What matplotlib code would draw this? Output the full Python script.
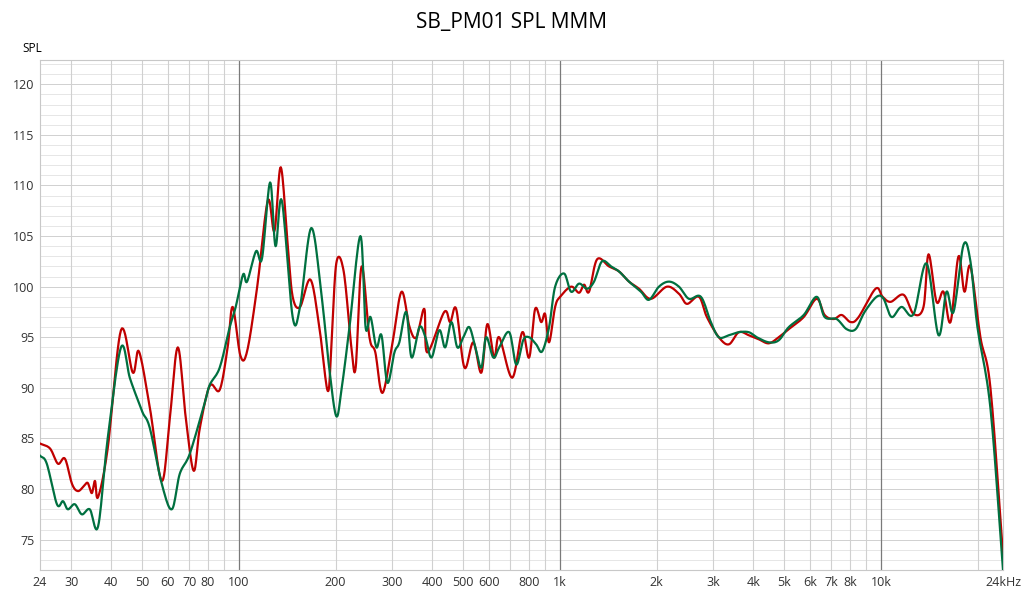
import matplotlib
matplotlib.use("Agg")
import matplotlib.pyplot as plt
import numpy as np

title = "SB_PM01 SPL MMM"
red_freq = [24,25.8,27.3,28.7,30.2,31.5,32.9,33.8,34.8,35.6,36.4,39.0,42.9,46.7,48.8,52.8,57.5,60.9,64.5,68.3,72.3,75.5,81.1,87.1,92.2,95.6,101,106,114,123,129,135,142,147,155,167,178,189,194,201,212,224,231,241,255,266,280,301,321,340,357,378,386,436,455,475,504,537,569,594,624,647,710,763,802,837,874,899,925,966,1001,1083,1147,1189,1232,1305,1422,1528,1641,1763,1920,2154,2348,2486,2709,2869,3126,3358,3608,3876,4163,4472,4804,5161,5746,6306,6678,7124,7546,8047,8522,9623,10120,10720,11760,12640,13570,14070,14900,15660,16470,17440,18200,19000,20410,21930,24000]
red_spl = [84.5,84,82.5,83,80.5,79.8,80.3,80.6,79.6,80.8,79.2,84,95.7,91.5,93.6,88,80.8,87,94,87,81.8,86,90.2,89.8,94,98,93.2,93.6,100,108.5,105.5,111.8,104,99,98,100.7,96,89.7,94,102.3,101.5,94,92,102,95,93.5,89.5,94.5,99.5,96,95,97.8,93.5,97.5,96.5,97.8,92,94.5,91.5,96.3,93,95,91,95.5,93,97.8,96.5,97.3,94.5,98,99,100,99.4,100.2,99.5,102.7,102,101.5,100.5,99.8,98.8,100,99.3,98.3,99,97,95,94.3,95.5,95.2,94.8,94.4,95,95.8,97,98.8,97.2,96.8,97.2,96.5,97,99.8,99,98.5,99.2,97.3,98,103.2,98.5,99.5,96.5,103,99.5,102,95,90,73.5]
green_freq = [24,25.2,27.1,28.3,29.3,30.8,32.4,34.3,36.4,39.0,42.9,45.7,48.4,50.2,52.8,57.5,61.8,65.4,70.3,78.2,81.1,87.1,93.6,97.7,103,106,113,118,125,130,136,147,155,168,181,191,201,209,221,239,248,257,268,278,290,305,316,332,345,365,381,398,421,439,459,479,500,522,545,569,589,620,647,695,731,768,802,843,880,925,966,1030,1083,1147,1215,1277,1352,1443,1528,1641,1788,1894,2034,2185,2348,2522,2748,2952,3126,3358,3608,3876,4104,4472,4804,5161,5746,6306,6678,7278,7817,8340,8894,9693,10190,10790,11590,12640,13870,15110,16000,16830,18070,19000,19980,21930,24000]
green_spl = [83.3,82.5,78.5,78.8,78,78.5,77.5,78,76.3,85,94,91,88.8,87.5,86,80.5,78,81.5,83.5,88.5,90.3,92,96,98,101.2,100.5,103.5,102.8,110.3,104,108.5,97,98,105.8,99,92,87.2,90,96,105,96,97,94,95.2,90.5,93.5,94.5,97.5,93,96,95,93,95.7,94,96.5,94,95,96,94,92,95,93,94,95.5,92.3,94.7,95,94.3,93.6,96,100,101.3,99.5,100.3,99.8,100.5,102.5,102,101.5,100.5,99.5,98.7,100,100.5,100,98.8,99,96.5,95,95.2,95.5,95.5,95,94.5,94.7,96,97.2,99,97,96.8,95.8,95.8,97.5,99,98.8,97,98,97.3,102.3,95.2,99.5,97.5,104.1,102.5,96,88,72]
xticks = [24,30,40,50,60,70,80,100,200,300,400,500,600,800,1000,2000,3000,4000,5000,6000,7000,8000,10000,24000]
xticklabels = ["24","30","40","50","60","70","80","100","200","300","400","500","600","800","1k","2k","3k","4k","5k","6k","7k","8k","10k","24kHz"]
yticks = [75,80,85,90,95,100,105,110,115,120]


def smooth_path(freq, spl, n=12):
    # Catmull-Rom spline through the read points, in log-frequency space (drawing only)
    x = np.log10(np.asarray(freq, float))
    y = np.asarray(spl, float)
    xp = np.concatenate([[2 * x[0] - x[1]], x, [2 * x[-1] - x[-2]]])
    yp = np.concatenate([[2 * y[0] - y[1]], y, [2 * y[-1] - y[-2]]])
    xs, ys = [], []
    t = np.linspace(0, 1, n, endpoint=False)
    for i in range(1, len(xp) - 2):
        for arr, out in ((xp, xs), (yp, ys)):
            p0, p1, p2, p3 = arr[i - 1], arr[i], arr[i + 1], arr[i + 2]
            out.extend(0.5 * ((2 * p1) + (-p0 + p2) * t + (2 * p0 - 5 * p1 + 4 * p2 - p3) * t ** 2
                              + (-p0 + 3 * p1 - 3 * p2 + p3) * t ** 3))
    xs.append(x[-1]); ys.append(y[-1])
    return 10 ** np.array(xs), np.array(ys)


plt.rcParams["font.family"] = "Open Sans"
fig = plt.figure(figsize=(10.24, 5.92), dpi=100)
ax = fig.add_axes([40/1024, 22/592, 963/1024, 510/592])
ax.set_xscale("log")
ax.set_xlim(24, 24000)
ax.set_ylim(72.0, 122.4)

for v in range(73, 123):
    ax.axhline(v, color="#d0d0d0" if v % 5 == 0 else "#e6e6e6", lw=0.7, zorder=0)
for d in [10, 100, 1000, 10000]:
    for m in range(1, 10):
        f = d * m
        if 24 <= f <= 24000:
            if m == 1:
                ax.axvline(f, color="#7a7a7a", lw=0.9, zorder=1)
            else:
                ax.axvline(f, color="#d0d0d0", lw=0.8, zorder=0.5)

rx, ry = smooth_path(red_freq, red_spl)
gx, gy = smooth_path(green_freq, green_spl)
ax.plot(rx, ry, color="#c00000", lw=1.6, zorder=3)
ax.plot(gx, gy, color="#007040", lw=1.6, zorder=4)

ax.set_xticks(xticks)
ax.set_xticklabels(xticklabels, fontsize=9)
ax.xaxis.set_minor_locator(matplotlib.ticker.NullLocator())
ax.set_yticks(yticks)
ax.set_yticklabels([str(v) for v in yticks], fontsize=9)
ax.tick_params(length=0, pad=4, colors="#333333")
for s in ax.spines.values():
    s.set_color("#c8c8c8")
fig.text(0.5, 0.962, title, ha="center", va="center", fontsize=15)
fig.text(22/1024, 1 - 48/592, "SPL", ha="left", va="center", fontsize=8.5)
fig.savefig("out.png", dpi=100)
